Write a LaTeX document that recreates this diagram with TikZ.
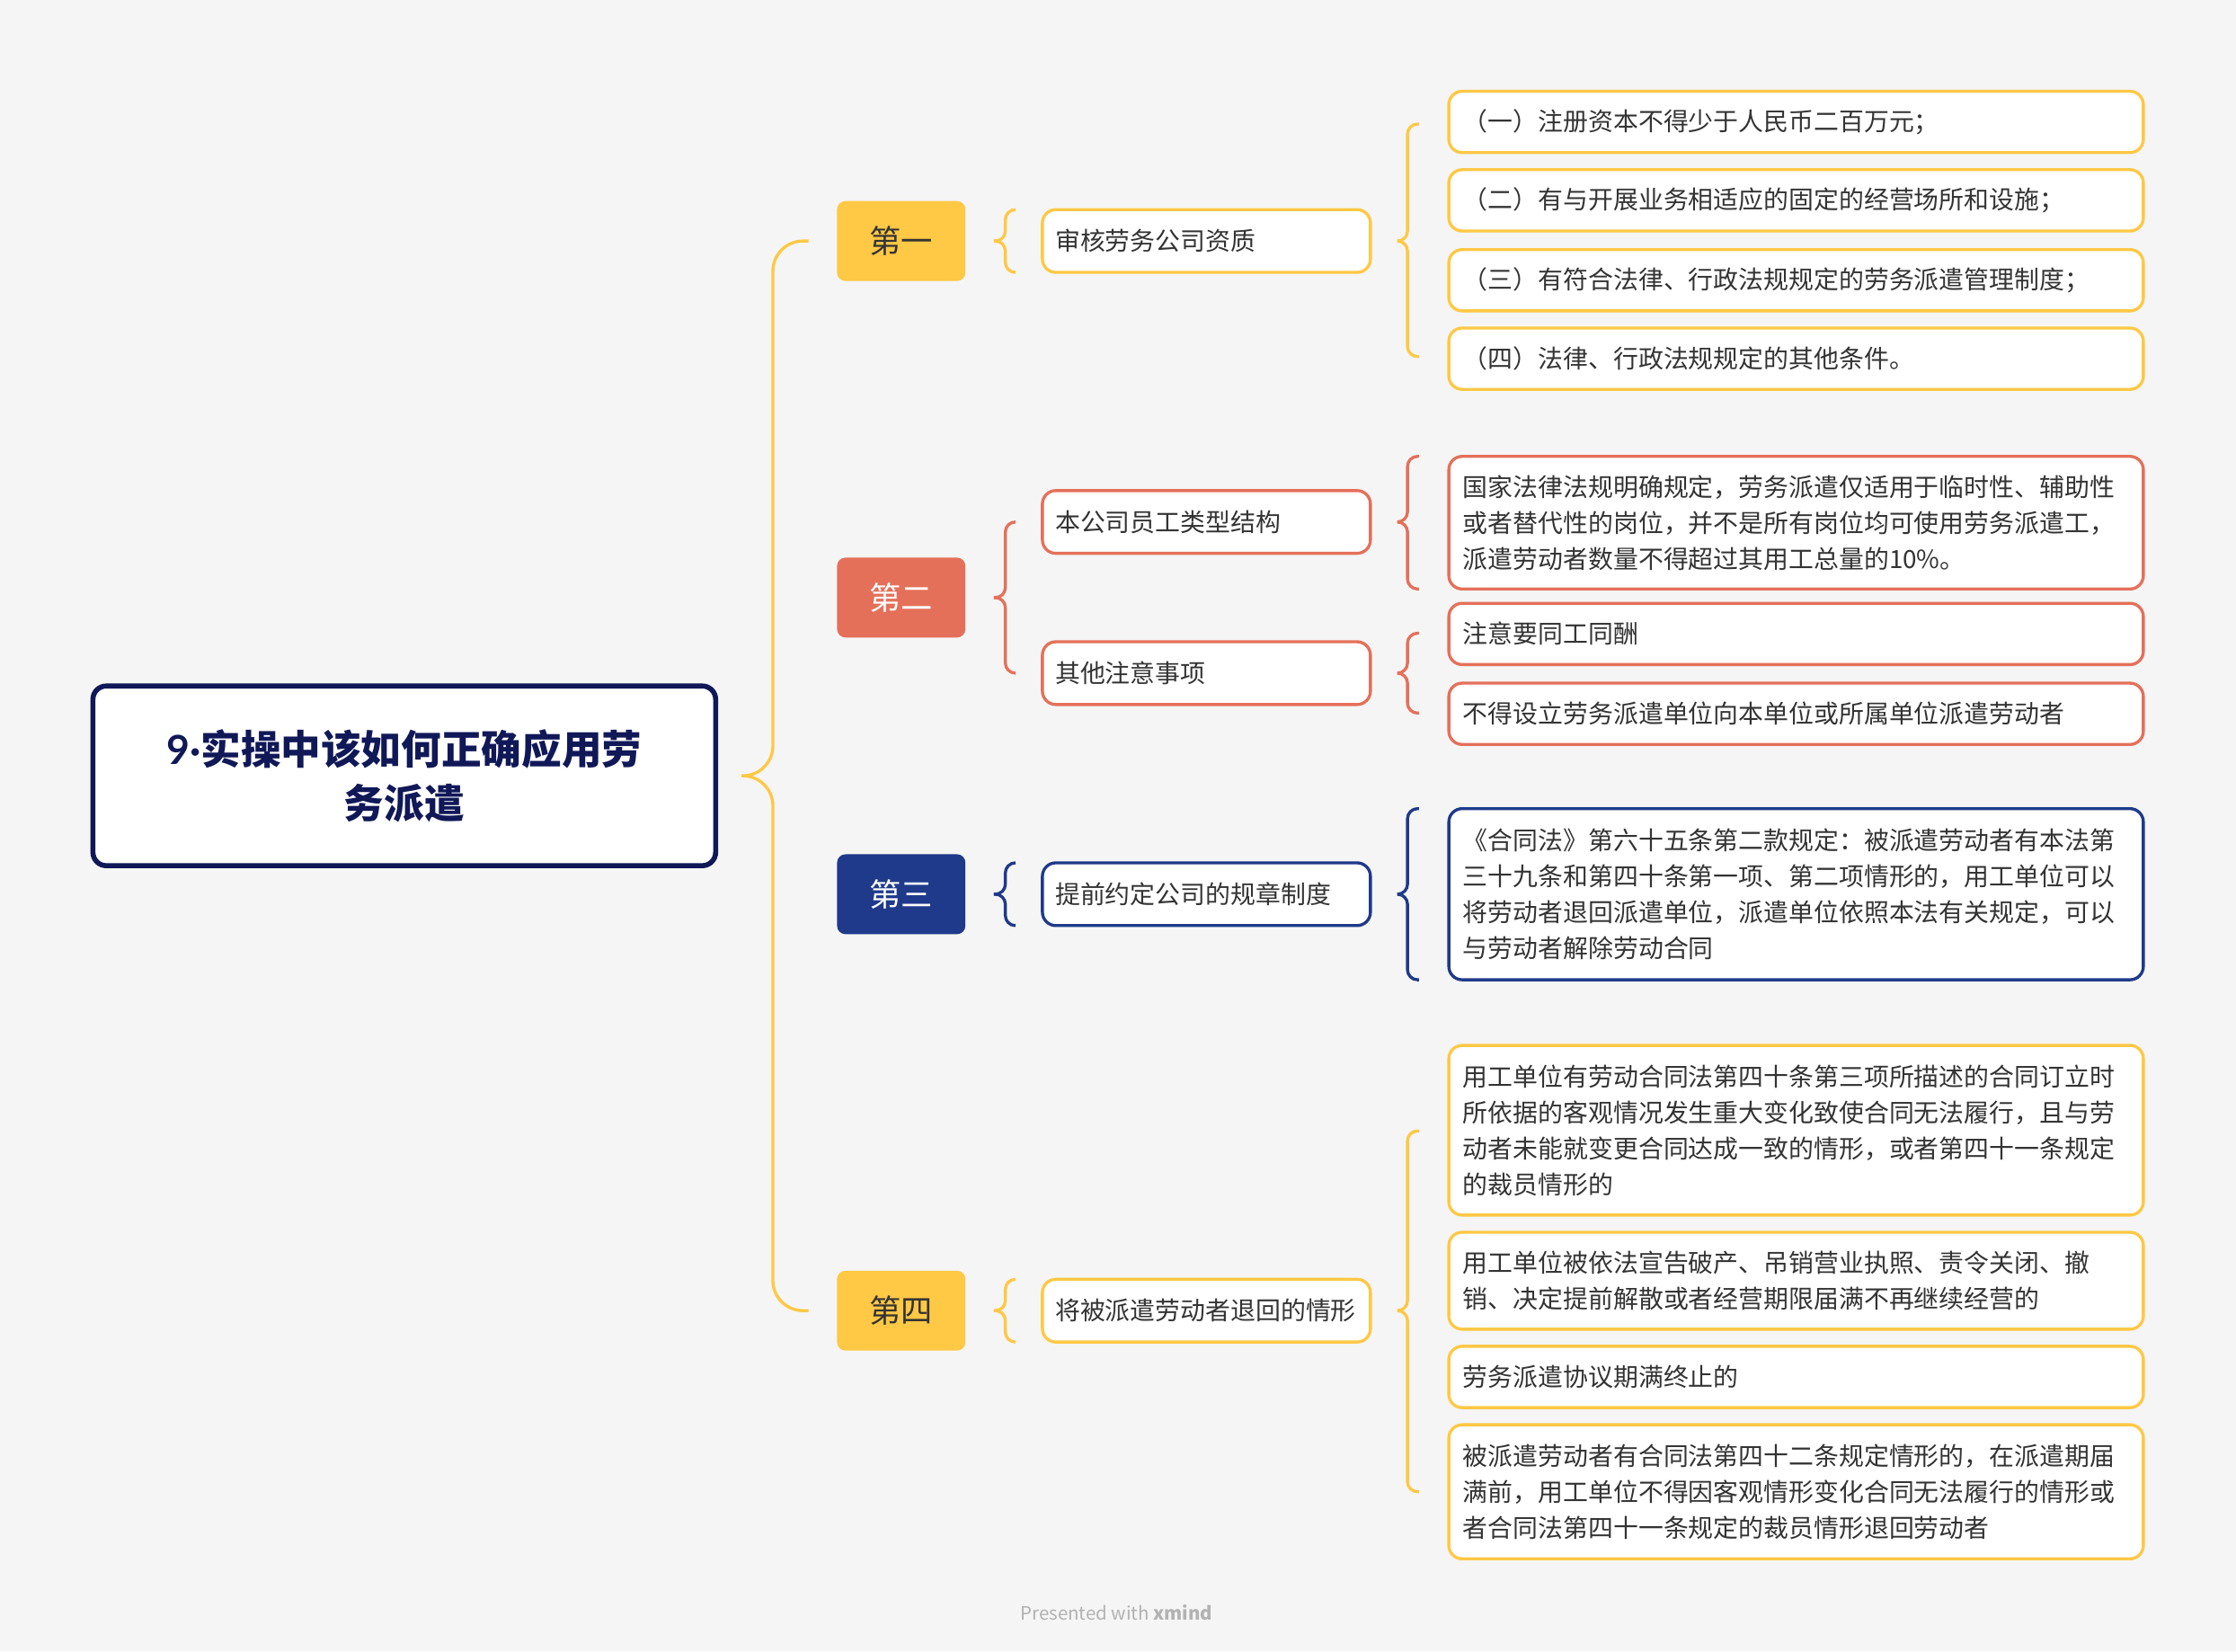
\documentclass[tikz,border=0pt]{standalone}
\usepackage{fontspec}
\setmainfont{Noto Sans CJK SC}
\newfontfamily\latinf{Lato}
\usetikzlibrary{calc}
\definecolor{bg}{HTML}{F5F5F5}
\definecolor{yel}{HTML}{FFC845}
\definecolor{red}{HTML}{E5705A}
\definecolor{navy}{HTML}{1F3A8A}
\definecolor{root}{HTML}{101858}
\definecolor{txt}{HTML}{333333}
\tikzset{
 lone/.style={rounded corners=5pt,minimum width=2.7cm,minimum height=1.68cm,font=\fontsize{19}{22}\selectfont},
 ltwo/.style={draw,line width=1.8pt,rounded corners=8pt,fill=white,minimum width=6.9cm,minimum height=1.32cm,inner xsep=0.27cm,text width=6.36cm,align=left,font=\fontsize{15}{21}\selectfont,text=txt},
 lthree/.style={draw,line width=1.8pt,rounded corners=8pt,fill=white,minimum width=14.61cm,inner xsep=0.3cm,text width=14.01cm,align=left,font=\fontsize{15}{21.5}\selectfont,text=txt},
 br/.style={line width=1.8pt,rounded corners=6pt}
}
\newcommand\brc[7]{\draw[br,#1] (#4,#5)--(#3,#5)--(#3,#6)--(#2,#6);\draw[br,#1] (#2,#6)--(#3,#6)--(#3,#7)--(#4,#7);}
\begin{document}
\begin{tikzpicture}[x=0.03cm,y=-0.03cm]
\fill[bg] (0,0) rectangle (1568,1158);
\useasboundingbox (0,0) rectangle (1568,1158);
\node[draw=root,line width=3pt,rounded corners=8pt,fill=white,minimum width=13.1cm,minimum height=3.78cm,align=center,text=root,font=\fontsize{24}{32}\selectfont\bfseries] (r) at (283.5,544) {{\latinf\bfseries 9·}实操中该如何正确应用劳\\务派遣};
\node[lone,fill=yel,text=txt] (n1) at (632,169) {第一};
\node[lone,fill=red,text=white] (n2) at (632,419) {第二};
\node[lone,fill=navy,text=white] (n3) at (632,627) {第三};
\node[lone,fill=yel,text=txt] (n4) at (632,919) {第四};
\draw[br,yel,rounded corners=18pt] (567,169)--(542,169)--(542,544)--(520,544);
\draw[br,yel,rounded corners=18pt] (520,544)--(542,544)--(542,919)--(567,919);
\node[ltwo,draw=yel] (m1) at (846,169) {审核劳务公司资质};
\node[ltwo,draw=red] (m2) at (846,366) {本公司员工类型结构};
\node[ltwo,draw=red] (m3) at (846,472) {其他注意事项};
\node[ltwo,draw=navy] (m4) at (846,627) {提前约定公司的规章制度};
\node[ltwo,draw=yel] (m5) at (846,919) {将被派遣劳动者退回的情形};
\brc{yel}{697}{705}{712}{147}{169}{191}
\brc{red}{697}{705}{712}{366}{419}{472}
\brc{navy}{697}{705}{712}{605}{627}{649}
\brc{yel}{697}{705}{712}{897}{919}{941}
\node[lthree,draw=yel,minimum height=1.29cm] (a1) at (1259.5,85.5) {（一）注册资本不得少于人民币二百万元；};
\node[lthree,draw=yel,minimum height=1.29cm] (a2) at (1259.5,140.5) {（二）有与开展业务相适应的固定的经营场所和设施；};
\node[lthree,draw=yel,minimum height=1.29cm] (a3) at (1259.5,196.5) {（三）有符合法律、行政法规规定的劳务派遣管理制度；};
\node[lthree,draw=yel,minimum height=1.29cm] (a4) at (1259.5,251.5) {（四）法律、行政法规规定的其他条件。};
\brc{yel}{980}{987}{995}{87}{169}{250}
\node[lthree,draw=red,minimum height=2.79cm] (b1) at (1259.5,366.5) {国家法律法规明确规定，劳务派遣仅适用于临时性、辅助性\\或者替代性的岗位，并不是所有岗位均可使用劳务派遣工，\\派遣劳动者数量不得超过其用工总量的10\%。};
\brc{red}{980}{987}{995}{320}{366}{413}
\node[lthree,draw=red,minimum height=1.29cm] (c1) at (1259.5,444.5) {注意要同工同酬};
\node[lthree,draw=red,minimum height=1.29cm] (c2) at (1259.5,500.5) {不得设立劳务派遣单位向本单位或所属单位派遣劳动者};
\brc{red}{980}{987}{995}{444}{472}{500}
\node[lthree,draw=navy,minimum height=3.6cm] (d1) at (1259.5,627) {《合同法》第六十五条第二款规定：被派遣劳动者有本法第\\三十九条和第四十条第一项、第二项情形的，用工单位可以\\将劳动者退回派遣单位，派遣单位依照本法有关规定，可以\\与劳动者解除劳动合同};
\brc{navy}{980}{987}{995}{567}{627}{687}
\node[lthree,draw=yel,minimum height=3.57cm] (e1) at (1259.5,792.5) {用工单位有劳动合同法第四十条第三项所描述的合同订立时\\所依据的客观情况发生重大变化致使合同无法履行，且与劳\\动者未能就变更合同达成一致的情形，或者第四十一条规定\\的裁员情形的};
\node[lthree,draw=yel,minimum height=2.04cm] (e2) at (1259.5,898) {用工单位被依法宣告破产、吊销营业执照、责令关闭、撤\\销、决定提前解散或者经营期限届满不再继续经营的};
\node[lthree,draw=yel,minimum height=1.29cm] (e3) at (1259.5,965.5) {劳务派遣协议期满终止的};
\node[lthree,draw=yel,minimum height=2.82cm] (e4) at (1259.5,1046) {被派遣劳动者有合同法第四十二条规定情形的，在派遣期届\\满前，用工单位不得因客观情形变化合同无法履行的情形或\\者合同法第四十一条规定的裁员情形退回劳动者};
\brc{yel}{980}{987}{995}{793}{919}{1046}
\node[text=black!30,font=\fontsize{11}{13}\selectfont] (f) at (783,1131) {Presented with \textbf{xmind}};
\end{tikzpicture}
\end{document}
